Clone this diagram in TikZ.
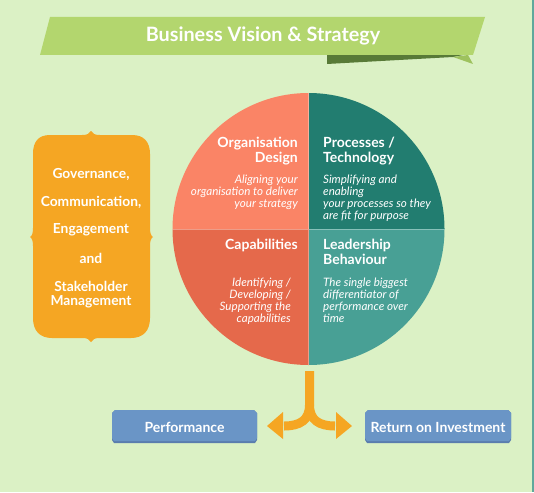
\documentclass[tikz,border=0pt]{standalone}
\usepackage{fontspec}
\setmainfont{Lato}
\newfontfamily\latoB{Lato Bold}
\newfontfamily\latoI{Lato Italic}
\definecolor{bg}{HTML}{DBF1C5}
\definecolor{banner}{HTML}{B3D66E}
\definecolor{fold}{HTML}{587A37}
\definecolor{foldlight}{HTML}{9EC25E}
\definecolor{qTL}{HTML}{FA8466}
\definecolor{qTR}{HTML}{227D70}
\definecolor{qBL}{HTML}{E5694B}
\definecolor{qBR}{HTML}{48A095}
\definecolor{orangebox}{HTML}{F5A623}
\definecolor{bluebox}{HTML}{6A95C6}
\definecolor{blueshadow}{HTML}{5A7DAE}
\definecolor{edgeline}{HTML}{5FA89C}
\tikzset{
  head/.style={font=\latoB\fontsize{14}{15}\selectfont, text=white, inner sep=0pt},
  desc/.style={font=\latoI\fontsize{11.6}{12}\selectfont, text=white, inner sep=0pt},
  sidetext/.style={font=\latoB\fontsize{13.8}{14}\selectfont, text=white, inner sep=0pt, align=center},
  btext/.style={font=\latoB\fontsize{14}{15}\selectfont, text=white, inner sep=0pt},
}
\begin{document}
\begin{tikzpicture}[x=1pt,y=-1pt]
\fill[bg] (0,0) rectangle (534,492);
\useasboundingbox (0,0) rectangle (534,492);
\draw[edgeline, line width=1.5pt] (533,0) -- (533,492);
% banner
\fill[fold] (327,54) -- (468,54) -- (453,57) -- (327,64) -- cycle;
\fill[foldlight] (453,57) -- (468,55) -- (473,64) -- cycle;
\fill[banner] (50,17) -- (485,17) -- (473,55) -- (40,55) -- cycle;
\node[font=\latoB\fontsize{19.8}{21}\selectfont, text=white, inner sep=0pt] (title) at (263,36) {Business Vision \& Strategy};
% circle
\coordinate (c) at (308.5,229);
\begin{scope}
\clip (c) circle[radius=136];
\fill[qTL] (170,90) rectangle (c);
\fill[qTR] (447,90) rectangle (c);
\fill[qBL] (170,368) rectangle (c);
\fill[qBR] (447,368) rectangle (c);
\draw[white, opacity=0.35, line width=0.8pt] (308.5,90) -- (308.5,368) (170,229) -- (447,229);
\end{scope}
% quadrant texts
\node[head, align=right, anchor=north east] (od) at (298,137) {Organisation\\Design};
\node[desc, align=right, anchor=north east] (odd) at (298,175) {Aligning your\\organisation to deliver\\your strategy};
\node[head, align=left, anchor=north west] (pt) at (323,137) {Processes /\\Technology};
\node[desc, align=left, anchor=north west] (ptd) at (323,175) {Simplifying and\\enabling\\your processes so they\\are fit for purpose};
\node[head, align=right, anchor=north east] (cap) at (298,239) {Capabilities};
\node[desc, align=right, anchor=north east] (capd) at (291,278) {Identifying /\\Developing /\\Supporting the\\capabilities};
\node[head, align=left, anchor=north west] (lb) at (323,239) {Leadership\\Behaviour};
\node[desc, align=left, anchor=north west] (lbd) at (323,278) {The single biggest\\differentiator of\\performance over\\time};
% side scroll box
\fill[orangebox] (91,131) .. controls (89,134) and (87,135) .. (82,135) -- (50,135)
  .. controls (38,135) and (33,142) .. (33,154) -- (33,228)
  .. controls (33,233) and (32,236) .. (30,237)
  .. controls (32,238) and (33,241) .. (33,246) -- (33,318)
  .. controls (33,331) and (40,338) .. (52,338) -- (82,338)
  .. controls (87,338) and (89,339) .. (91,342)
  .. controls (93,339) and (95,338) .. (100,338) -- (131,338)
  .. controls (143,338) and (150,331) .. (150,318) -- (150,246)
  .. controls (150,241) and (151,238) .. (153,237)
  .. controls (151,236) and (150,233) .. (150,228) -- (150,154)
  .. controls (150,142) and (144,135) .. (132,135) -- (100,135)
  .. controls (95,135) and (93,134) .. (91,131) -- cycle;
\node[sidetext] (g1) at (91,174) {Governance,};
\node[sidetext] (g2) at (91,202) {Communication,};
\node[sidetext] (g3) at (91,230) {Engagement};
\node[sidetext] (g4) at (91,258) {and};
\node[sidetext] (g5) at (91,294.5) {Stakeholder\\Management};
% bottom boxes
\fill[blueshadow] (112,413) -- (115,410) -- (254,410) -- (257,413) -- (257,440) -- (255,443) -- (114,443) -- (112,440) -- cycle;
\fill[bluebox] (112,413) -- (115,410) -- (254,410) -- (257,413) -- (257,438) -- (255,441) -- (114,441) -- (112,438) -- cycle;
\node[btext] (perf) at (184.5,427) {Performance};
\fill[blueshadow] (365,413) -- (368,410) -- (508,410) -- (511,413) -- (511,440) -- (509,443) -- (367,443) -- (365,440) -- cycle;
\fill[bluebox] (365,413) -- (368,410) -- (508,410) -- (511,413) -- (511,438) -- (509,441) -- (367,441) -- (365,438) -- cycle;
\node[btext] (roi) at (438,427) {Return on Investment};
% split arrow
\coordinate (stemtop) at (309.5,371);
\coordinate (split) at (309.5,405);
\coordinate (lbase) at (284,426);
\coordinate (rbase) at (335,426);
\draw[orangebox, line width=9pt] (stemtop) -- (split) .. controls (309.5,420) and (300,426) .. (lbase);
\draw[orangebox, line width=9pt] (split) .. controls (309.5,420) and (319,426) .. (rbase);
\fill[orangebox] (283,412) -- (267,426) -- (283,439) -- cycle;
\fill[orangebox] (336,412) -- (352,426) -- (336,439) -- cycle;
\end{tikzpicture}
\end{document}
